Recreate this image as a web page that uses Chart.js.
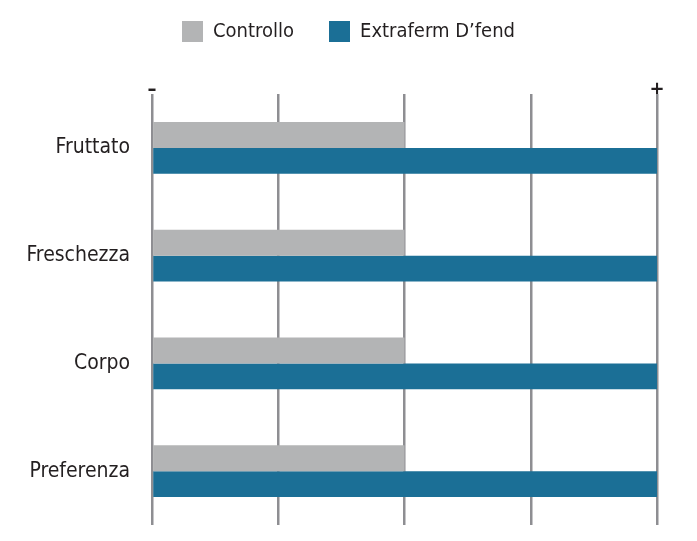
<!DOCTYPE html>
<html lang="it">
<head>
    <meta charset="UTF-8">
    <title>Controllo vs Extraferm D'fend</title>
    <script src="https://cdn.jsdelivr.net/npm/chart.js"></script>
    <style>
        html, body { margin: 0; padding: 0; background: #fff; }
        #wrap { width: 697px; height: 541px; }
    </style>
</head>
<body>
    <div id="wrap"><canvas id="sensoryChart" width="697" height="541"></canvas></div>

    <script>
        // categorie e valori (scala 0 = "–" ... 4 = "+")
        const categories = ['Fruttato', 'Freschezza', 'Corpo', 'Preferenza'];
        const controlloValues = [2, 2, 2, 2];
        const extrafermValues = [4, 4, 4, 4];
        const scaleLabels = ['–', '', '', '', '+'];

        const FONT = '"Liberation Sans Narrow", "Arial Narrow", "DejaVu Sans Condensed", sans-serif';
        const TEXT = '#231f20';

        const ctx = document.getElementById('sensoryChart').getContext('2d');
        new Chart(ctx, {
            type: 'bar',
            data: {
                labels: categories,
                datasets: [{
                    label: 'Controllo',
                    data: controlloValues,
                    backgroundColor: '#b3b4b5'
                }, {
                    label: 'Extraferm D\u2019fend',
                    data: extrafermValues,
                    backgroundColor: '#1b6f96'
                }]
            },
            options: {
                indexAxis: 'y',
                responsive: false,
                animation: false,
                categoryPercentage: 0.48,
                barPercentage: 1,
                layout: { padding: { left: 0, right: 0, top: -14, bottom: 16 } },
                plugins: {
                    tooltip: { enabled: false },
                    legend: {
                        position: 'top',
                        labels: {
                            boxWidth: 21,
                            boxHeight: 21,
                            padding: 35,
                            color: TEXT,
                            font: { family: FONT, size: 20 }
                        }
                    }
                },
                scales: {
                    x: {
                        position: 'top',
                        min: 0,
                        max: 4,
                        ticks: {
                            stepSize: 1,
                            padding: -8,
                            color: TEXT,
                            font: { family: FONT, size: 20, weight: 'bold' },
                            callback: (v) => scaleLabels[v] ?? ''
                        },
                        grid: { color: '#8e8e92', lineWidth: 2.5, drawTicks: false },
                        border: { display: false },
                        afterFit: (scale) => {
                            scale.height += 34;
                            scale.paddingRight = 40;
                        }
                    },
                    y: {
                        ticks: {
                            padding: 22,
                            color: TEXT,
                            font: { family: FONT, size: 21 }
                        },
                        grid: { display: false, drawTicks: false },
                        border: { display: false },
                        afterFit: (scale) => {
                            scale.width = 152;
                            scale.paddingTop = 0;
                            scale.paddingBottom = 0;
                        }
                    }
                }
            }
        });
    </script>
</body>
</html>
